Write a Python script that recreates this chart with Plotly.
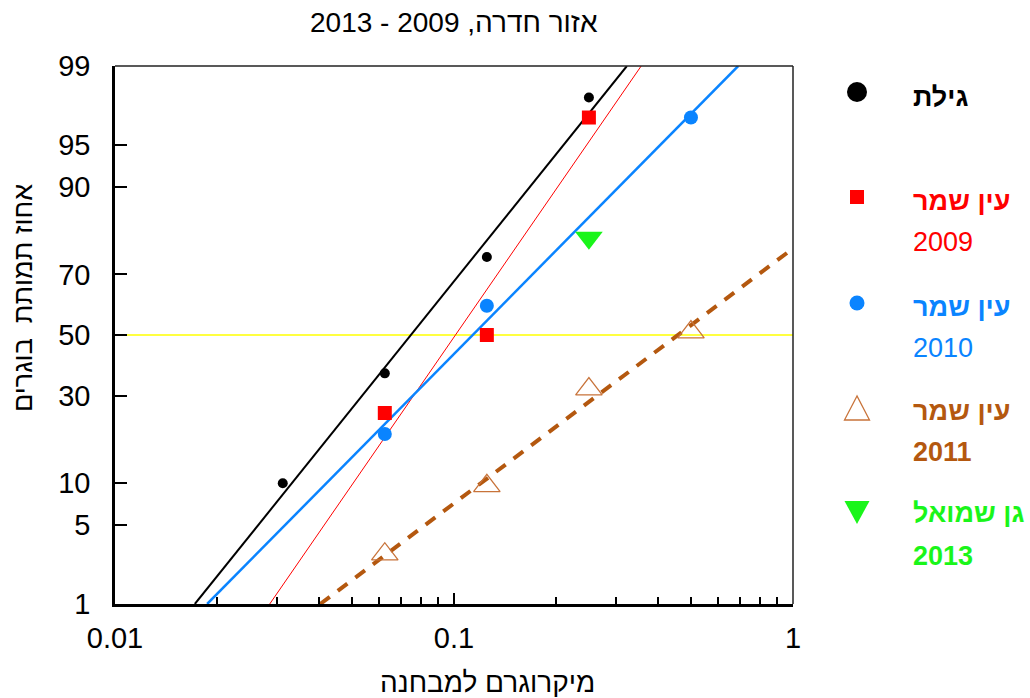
import math
import plotly.graph_objects as go

# ---------------- data ----------------
title_text = "אזור חדרה, 2009 - 2013"
x_title = "מיקרוגרם למבחנה"
y_title = "אחוז תמותת  בוגרים"

y_tick_pct = [1, 5, 10, 30, 50, 70, 90, 95, 99]

gilat_dose = [0.03125, 0.0625, 0.125, 0.25]
gilat_pct = [10, 37, 75, 98]

es2009_dose = [0.0625, 0.125, 0.25]
es2009_pct = [25, 50, 97]

es2010_dose = [0.0625, 0.125, 0.5]
es2010_pct = [19.6, 60, 97]

es2011_dose = [0.0625, 0.125, 0.25, 0.5]
es2011_pct = [2.9, 9.6, 32, 51]

gs2013_dose = [0.25]
gs2013_pct = [80]

# fitted probit lines (dose, percent) end points
gilat_fit_dose = [0.0172, 0.3236]
gilat_fit_pct = [1, 99]
es2009_fit_dose = [0.0286, 0.3566]
es2009_fit_pct = [1, 99]
es2010_fit_dose = [0.0187, 0.689]
es2010_fit_pct = [1, 99]
es2011_fit_dose = [0.0403, 1.0]
es2011_fit_pct = [1, 77.3]

lc50_pct = 50

legend_labels = [
    ("גילת", None, "black", True),
    ("עין שמר", "2009", "#FF0000", False),
    ("עין שמר", "2010", "#0A84FF", False),
    ("עין שמר", "2011", "#B4580F", True),
    ("גן שמואל", "2013", "#1AF51A", True),
]


def probit(p):
    """inverse standard normal CDF of a fraction p, by bisection"""
    lo, hi = -10.0, 10.0
    for _ in range(100):
        mid = 0.5 * (lo + hi)
        if 0.5 * (1 + math.erf(mid / math.sqrt(2))) < p:
            lo = mid
        else:
            hi = mid
    return 0.5 * (lo + hi)


def z(pcts):
    return [probit(v / 100.0) for v in pcts]


W, H = 1030, 698
PX0, PX1, PY0, PY1 = 115, 793, 66, 604  # plot area in pixels
PW, PH = PX1 - PX0, PY1 - PY0


def px(x):
    return (x - PX0) / PW


def py(y):
    return (PY1 - y) / PH


FONT = "Liberation Sans, Arial, sans-serif"
BLACK = "black"
RED = "#FF0000"
BLUE = "#0A84FF"
BROWN = "#B4580F"
BROWN_LIGHT = "#C8733A"
GREEN = "#1AF51A"

fig = go.Figure()

# 50% line
fig.add_trace(go.Scatter(x=[0.01, 1], y=z([lc50_pct, lc50_pct]), mode="lines",
                         line=dict(color="#FFFF00", width=1.5), hoverinfo="skip"))

# fitted lines
fig.add_trace(go.Scatter(x=gilat_fit_dose, y=z(gilat_fit_pct), mode="lines",
                         line=dict(color=BLACK, width=2)))
fig.add_trace(go.Scatter(x=es2009_fit_dose, y=z(es2009_fit_pct), mode="lines",
                         line=dict(color=RED, width=1)))
fig.add_trace(go.Scatter(x=es2010_fit_dose, y=z(es2010_fit_pct), mode="lines",
                         line=dict(color=BLUE, width=2.5)))
fig.add_trace(go.Scatter(x=es2011_fit_dose, y=z(es2011_fit_pct), mode="lines",
                         line=dict(color=BROWN, width=4, dash="12px,10px")))

# data points
fig.add_trace(go.Scatter(x=gilat_dose, y=z(gilat_pct), mode="markers",
                         marker=dict(symbol="circle", size=10, color=BLACK)))
fig.add_trace(go.Scatter(x=es2009_dose, y=z(es2009_pct), mode="markers",
                         marker=dict(symbol="square", size=14, color=RED)))
fig.add_trace(go.Scatter(x=es2010_dose, y=z(es2010_pct), mode="markers",
                         marker=dict(symbol="circle", size=14, color=BLUE)))
fig.add_trace(go.Scatter(x=es2011_dose, y=z(es2011_pct), mode="markers",
                         marker=dict(symbol="triangle-up-open", size=23, color=BROWN_LIGHT,
                                     line=dict(width=1.3, color=BROWN_LIGHT))))
fig.add_trace(go.Scatter(x=gs2013_dose, y=z(gs2013_pct), mode="markers",
                         marker=dict(symbol="triangle-down", size=24, color=GREEN)))

annotations = []
# title
annotations.append(dict(text=title_text, x=px(454), y=py(23), xref="paper", yref="paper",
                        showarrow=False, xanchor="center", yanchor="middle",
                        font=dict(family=FONT, size=28, color=BLACK)))
# axis titles
annotations.append(dict(text=x_title, x=px(487), y=py(682), xref="paper", yref="paper",
                        showarrow=False, xanchor="center", yanchor="middle",
                        font=dict(family=FONT, size=28, color=BLACK)))
annotations.append(dict(text=y_title, x=px(23), y=py(298), xref="paper", yref="paper",
                        showarrow=False, xanchor="center", yanchor="middle", textangle=-90,
                        font=dict(family=FONT, size=27, color=BLACK)))

# legend texts (left aligned)
TX = 911
line1_y = [97, 201, 307, 411, 513]
line2_y = [None, 242, 348, 452, 556]
for (l1, l2, col, bold2), y1, y2 in zip(legend_labels, line1_y, line2_y):
    annotations.append(dict(text="<b>" + l1 + "</b>", x=px(TX), y=py(y1),
                            xref="paper", yref="paper", showarrow=False,
                            xanchor="left", yanchor="middle",
                            font=dict(family=FONT, size=27, color=col)))
    if l2:
        txt = "<b>" + l2 + "</b>" if bold2 else l2
        annotations.append(dict(text=txt, x=px(TX), y=py(y2),
                                xref="paper", yref="paper", showarrow=False,
                                xanchor="left", yanchor="middle",
                                font=dict(family=FONT, size=27, color=col)))

# legend key symbols (drawn as shapes in the right margin)
LX = 857
shapes = [
    dict(type="line", xref="paper", yref="paper", x0=0, x1=1, y0=1, y1=1,
         line=dict(color="#222222", width=1.5)),
    dict(type="line", xref="paper", yref="paper", x0=1, x1=1, y0=0, y1=1,
         line=dict(color="#222222", width=1.5)),
    # black circle
    dict(type="circle", xref="paper", yref="paper",
         x0=px(LX - 10), x1=px(LX + 10), y0=py(92 + 10), y1=py(92 - 10),
         fillcolor=BLACK, line=dict(width=0)),
    # red square
    dict(type="rect", xref="paper", yref="paper",
         x0=px(LX - 7), x1=px(LX + 7), y0=py(197 + 7), y1=py(197 - 7),
         fillcolor=RED, line=dict(width=0)),
    # blue circle
    dict(type="circle", xref="paper", yref="paper",
         x0=px(LX - 7.5), x1=px(LX + 7.5), y0=py(303 + 7.5), y1=py(303 - 7.5),
         fillcolor=BLUE, line=dict(width=0)),
    # brown open triangle
    dict(type="path", xref="paper", yref="paper",
         path="M {:.5f},{:.5f} L {:.5f},{:.5f} L {:.5f},{:.5f} Z".format(
             px(LX), py(396), px(LX - 12.5), py(420), px(LX + 12.5), py(420)),
         fillcolor="rgba(0,0,0,0)", line=dict(color=BROWN_LIGHT, width=1.3)),
    # green triangle down
    dict(type="path", xref="paper", yref="paper",
         path="M {:.5f},{:.5f} L {:.5f},{:.5f} L {:.5f},{:.5f} Z".format(
             px(LX - 12.5), py(501), px(LX + 12.5), py(501), px(LX), py(524)),
         fillcolor=GREEN, line=dict(width=0)),
]

fig.update_layout(
    width=W, height=H,
    margin=dict(l=PX0, r=W - PX1, t=PY0, b=H - PY1, autoexpand=False),
    paper_bgcolor="white", plot_bgcolor="white",
    showlegend=False,
    font=dict(family=FONT, size=26, color=BLACK),
    annotations=annotations,
    shapes=shapes,
    xaxis=dict(
        type="log", range=[-2, 0],
        tickmode="linear", tick0=0, dtick=1, exponentformat="none",
        ticks="inside", ticklen=11, tickwidth=2, tickcolor=BLACK,
        minor=dict(ticks="inside", ticklen=7, tickwidth=1.5, tickcolor=BLACK,
                   dtick="D1", showgrid=False),
        showline=True, linewidth=2.5, linecolor=BLACK,
        showgrid=False, zeroline=False, automargin=False,
        tickfont=dict(family=FONT, size=29, color=BLACK),
        ticklabelstandoff=6,
    ),
    yaxis=dict(
        range=[probit(0.01), probit(0.99)],
        tickmode="array", tickvals=z(y_tick_pct), ticktext=[str(v) for v in y_tick_pct],
        ticks="inside", ticklen=12, tickwidth=2, tickcolor=BLACK,
        showline=True, linewidth=2.5, linecolor=BLACK,
        showgrid=False, zeroline=False, automargin=False,
        tickfont=dict(family=FONT, size=29, color=BLACK),
        ticklabelstandoff=16,
    ),
)

fig.write_html("out.html", config={"displayModeBar": False},
               post_script="document.body.style.margin='0';")
